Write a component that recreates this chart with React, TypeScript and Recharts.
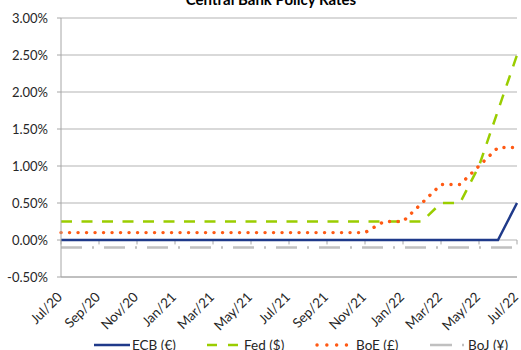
import React from 'react';
import { LineChart, Line, XAxis, YAxis, CartesianGrid, ReferenceLine } from 'recharts';

const months = [
    'Jul/20', 'Aug/20', 'Sep/20', 'Oct/20', 'Nov/20', 'Dec/20',
    'Jan/21', 'Feb/21', 'Mar/21', 'Apr/21', 'May/21', 'Jun/21',
    'Jul/21', 'Aug/21', 'Sep/21', 'Oct/21', 'Nov/21', 'Dec/21',
    'Jan/22', 'Feb/22', 'Mar/22', 'Apr/22', 'May/22', 'Jun/22', 'Jul/22',
];

const ecb = [0, 0, 0, 0, 0, 0, 0, 0, 0, 0, 0, 0, 0, 0, 0, 0, 0, 0, 0, 0, 0, 0, 0, 0, 0.5];
const fed = [0.25, 0.25, 0.25, 0.25, 0.25, 0.25, 0.25, 0.25, 0.25, 0.25, 0.25, 0.25, 0.25, 0.25, 0.25, 0.25, 0.25, 0.25, 0.25, 0.25, 0.5, 0.5, 1.0, 1.75, 2.5];
const boe = [0.1, 0.1, 0.1, 0.1, 0.1, 0.1, 0.1, 0.1, 0.1, 0.1, 0.1, 0.1, 0.1, 0.1, 0.1, 0.1, 0.1, 0.25, 0.25, 0.5, 0.75, 0.75, 1.0, 1.25, 1.25];
const boj = [-0.1, -0.1, -0.1, -0.1, -0.1, -0.1, -0.1, -0.1, -0.1, -0.1, -0.1, -0.1, -0.1, -0.1, -0.1, -0.1, -0.1, -0.1, -0.1, -0.1, -0.1, -0.1, -0.1, -0.1, -0.1];

const yTicks = [-0.5, 0, 0.5, 1, 1.5, 2, 2.5, 3];

const data = months.map((m, i) => ({ month: m, ecb: ecb[i], fed: fed[i], boe: boe[i], boj: boj[i] }));

const FONT = 'Lato, "Open Sans", sans-serif';

// rotated month labels, end of text sits just right of the tick
const MonthTick = ({ x, y, payload }: any) => (
    <g transform={`translate(${x + 2},${y + 13}) rotate(-45)`}>
        <text x={0} y={0} textAnchor="end" fontSize={13.5} fill="#262626" fontFamily={FONT}>
            {payload.value}
        </text>
    </g>
);

export default function App() {
    return (
        <div style={{ position: 'absolute', left: 0, top: 0, width: 521, height: 350, background: '#fff', overflow: 'hidden', fontFamily: FONT }}>
            <div style={{ position: 'absolute', top: -8, left: 171, width: 200, textAlign: 'center', fontSize: 15, fontWeight: 'bold', lineHeight: '15px', color: '#000', whiteSpace: 'nowrap' }}>
                Central Bank Policy Rates
            </div>
            <LineChart width={521} height={350} data={data} margin={{ top: 18, right: 4, left: 0, bottom: 28 }}>
                <CartesianGrid vertical={false} stroke="#b3b3b3" />
                <XAxis
                    dataKey="month"
                    interval={1}
                    tick={<MonthTick />}
                    tickLine={false}
                    axisLine={{ stroke: '#a6a6a6' }}
                    height={45}
                />
                <YAxis
                    domain={[-0.5, 3]}
                    ticks={yTicks}
                    tickFormatter={(v: number) => `${v.toFixed(2)}%`}
                    tick={{ fontSize: 13, fill: '#262626', fontFamily: FONT }}
                    tickSize={4}
                    tickMargin={9}
                    tickLine={{ stroke: '#a6a6a6' }}
                    axisLine={{ stroke: '#a6a6a6' }}
                    width={61}
                />
                {months.filter((_, i) => i % 2 === 0).map((m) => (
                    <ReferenceLine key={m} segment={[{ x: m, y: 0 }, { x: m, y: -0.06 }]} stroke="#a6a6a6" />
                ))}
                <Line dataKey="boj" stroke="#c0c0c0" strokeWidth={2.5} strokeDasharray="21 10 2 10" dot={false} isAnimationActive={false} />
                <Line dataKey="ecb" stroke="#1f3a8a" strokeWidth={2.5} dot={false} isAnimationActive={false} />
                <Line dataKey="fed" stroke="#9acd00" strokeWidth={2.5} strokeDasharray="11 9.5" dot={false} isAnimationActive={false} />
                <Line dataKey="boe" stroke="#ff5a14" strokeWidth={3.4} strokeLinecap="round" strokeDasharray="0.1 8.4" dot={false} isAnimationActive={false} />
            </LineChart>
            <svg width={521} height={20} style={{ position: 'absolute', left: 0, top: 335 }}>
                <line x1={94} y1={10} x2={130} y2={10} stroke="#1f3a8a" strokeWidth={2.5} />
                <text x={132} y={10} dy="0.35em" fontSize={13.5} fill="#262626" fontFamily={FONT}>ECB (€)</text>
                <line x1={207} y1={10} x2={238} y2={10} stroke="#9acd00" strokeWidth={2.5} strokeDasharray="10 11" />
                <text x={244} y={10} dy="0.35em" fontSize={13.5} fill="#262626" fontFamily={FONT}>Fed ($)</text>
                <line x1={317} y1={10} x2={348} y2={10} stroke="#ff5a14" strokeWidth={3.4} strokeLinecap="round" strokeDasharray="0.1 9.7" />
                <text x={356} y={10} dy="0.35em" fontSize={13.5} fill="#262626" fontFamily={FONT}>BoE (£)</text>
                <line x1={430} y1={10} x2={465} y2={10} stroke="#c0c0c0" strokeWidth={2.5} strokeDasharray="22 10 2 20" />
                <text x={468} y={10} dy="0.35em" fontSize={13.5} fill="#262626" fontFamily={FONT}>BoJ (¥)</text>
            </svg>
        </div>
    );
}
